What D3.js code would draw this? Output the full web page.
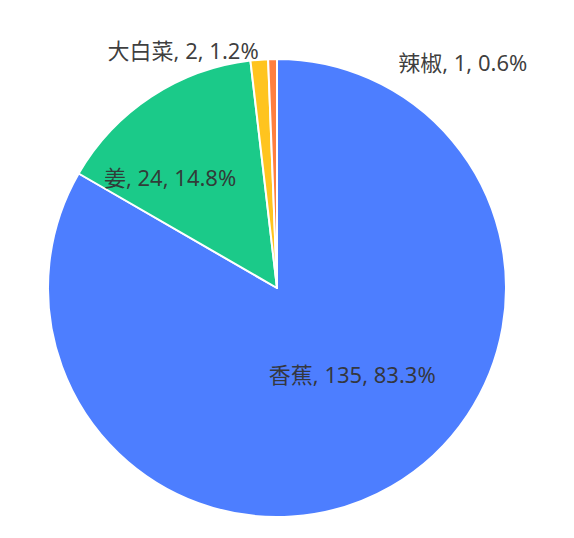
<!DOCTYPE html>
<html>
<head>
<meta charset="utf-8">
<script src="https://cdn.jsdelivr.net/npm/d3@7/dist/d3.min.js"></script>
<style>
html,body{margin:0;padding:0;background:#fff;}
svg{display:block;}
</style>
</head>
<body>
<svg id="chart" width="574" height="538"></svg>
<script>
const categories = ["香蕉", "姜", "大白菜", "辣椒"];
const values = [135, 24, 2, 1];
const colors = ["#4D7EFF", "#1BCA89", "#FFC41F", "#FF7F3F"];
// label layout: inside/outside, anchor, pixel nudge
const labelMode = ["inner", "inner", "outer", "outer"];
const labelAnchor = ["middle", "middle", "end", "start"];
const labelNudge = [[18, -13], [-44, -15], [1, 10], [126, 23]];

const W = 574, H = 538;
const cx = 277, cy = 288, R = 229;
const total = d3.sum(values);
const data = categories.map((c, i) => ({name: c, value: values[i], i}));

const svg = d3.select("#chart");
const g = svg.append("g").attr("transform", `translate(${cx},${cy})`);

const pie = d3.pie().value(d => d.value).sort(null);
const arcs = pie(data);
const arc = d3.arc().innerRadius(0).outerRadius(R);
const innerArc = d3.arc().innerRadius(0).outerRadius(R);
const outerArc = d3.arc().innerRadius(R + 20).outerRadius(R + 20);

g.selectAll("path").data(arcs).join("path")
  .attr("d", arc)
  .attr("fill", d => colors[d.data.i])
  .attr("stroke", "#fff")
  .attr("stroke-width", 2)
  .attr("stroke-linejoin", "round");

const fmt = d => `${d.data.name}, ${d.data.value}, ${(d.data.value / total * 100).toFixed(1)}%`;

g.selectAll("text").data(arcs).join("text")
  .attr("transform", d => {
    const i = d.data.i;
    const p = labelMode[i] === "inner" ? innerArc.centroid(d) : outerArc.centroid(d);
    return `translate(${p[0] + labelNudge[i][0]},${p[1] + labelNudge[i][1]})`;
  })
  .attr("text-anchor", d => labelAnchor[d.data.i])
  .attr("dominant-baseline", "central")
  .attr("font-family", "'Noto Sans', 'Noto Sans CJK SC', sans-serif")
  .attr("font-size", 22)
  .attr("fill", "#333")
  .attr("fill-opacity", 0.95)
  .text(fmt);
</script>
</body>
</html>
